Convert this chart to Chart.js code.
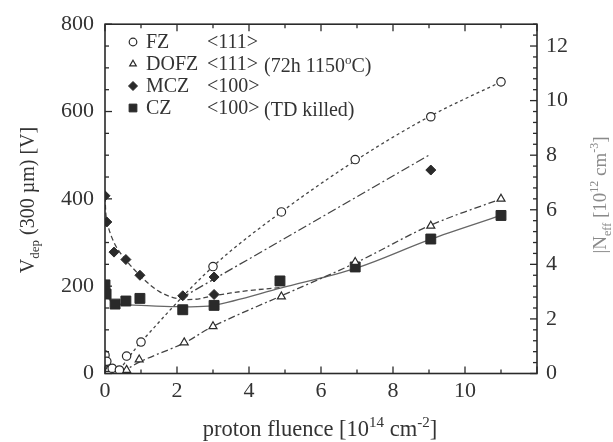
<!DOCTYPE html>
<html><head><meta charset="utf-8">
<script src="https://cdn.jsdelivr.net/npm/chart.js@4.4.1/dist/chart.umd.min.js"></script>
<style>html,body{margin:0;padding:0;background:#fff}#wrap{width:613px;height:442px;position:relative}</style>
</head><body><div id="wrap"><canvas id="c"></canvas></div>
<script>
// Series labels
const seriesNames  = ['FZ', 'DOFZ', 'MCZ', 'CZ'];
const seriesOrient = ['<111>', '<111>', '<100>', '<100>'];
const seriesNotes  = ['', '(72h 1150|o|C)', '', '(TD killed)'];

// Measured depletion voltage vs proton fluence
const fzX   = [0, 0.05, 0.2, 0.4, 0.6, 1.0, 3.0, 4.9, 6.95, 9.05, 11];
const fzY   = [42, 28, 12, 8, 40, 72, 245, 370, 490, 588, 668];
const dofzX = [0, 0.1, 0.3, 0.6, 0.95, 2.2, 3.0, 4.9, 6.95, 9.05, 11];
const dofzY = [22, 10, 3, 8, 32, 71, 108, 176, 255, 338, 400];
const mczX  = [0, 0.05, 0.25, 0.58, 0.97, 2.16, 3.03, 3.03, 9.05];
const mczY  = [407, 347, 278, 261, 225, 178, 221, 181, 466];
const czX   = [0, 0.03, 0.28, 0.58, 0.97, 2.16, 3.03, 4.86, 6.95, 9.05, 11];
const czY   = [203, 182, 159, 166, 172, 146, 156, 212, 244, 308, 362];

// Guide curves through the data
const fzFitX    = [0.4, 1, 3, 4.9, 7, 9, 11];
const fzFitY    = [8, 72, 245, 370, 490, 588, 668];
const dofzFitX  = [0.45, 1, 2.2, 3, 4.9, 7, 9, 11];
const dofzFitY  = [2, 28, 70, 108, 178, 255, 338, 400];
const mczCurveX = [0, 0.05, 0.25, 0.5, 1, 1.5, 2, 2.5, 3, 4, 4.9];
const mczCurveY = [405, 350, 300, 268, 222, 188, 172, 170, 178, 190, 197];
const mczLineX  = [2.1, 9];
const mczLineY  = [172, 500];
const czFitX    = [0, 0.1, 0.3, 1, 2, 3, 4.9, 7, 9, 11];
const czFitY    = [195, 172, 160, 156, 153, 156, 196, 242, 306, 362];

// Axis ticks
const xTicks  = [0, 2, 4, 6, 8, 10];
const yTicks  = [0, 200, 400, 600, 800];
const y2Ticks = [0, 2, 4, 6, 8, 10, 12];

const INK = '#2a2a2a';
const FONT = 'Liberation Serif';
const pts = (xs, ys) => xs.map((x, i) => ({x, y: ys[i]}));

const pointSets = [
  {data: pts(fzX, fzY),     pointStyle: 'circle',   radius: 4.2, backgroundColor: '#fff', borderColor: INK, borderWidth: 1.2},
  {data: pts(dofzX, dofzY), pointStyle: 'triangle', radius: 4.6, backgroundColor: '#fff', borderColor: INK, borderWidth: 1.2},
  {data: pts(mczX, mczY),   pointStyle: 'rectRot',  radius: 5,   backgroundColor: INK,   borderColor: INK, borderWidth: 1},
  {data: pts(czX, czY),     pointStyle: 'rect',     radius: 7,   backgroundColor: INK,   borderColor: INK, borderWidth: 1}
];

function fitLine(xs, ys, dash, color) {
  return {type: 'line', data: pts(xs, ys), showLine: true, pointRadius: 0, borderColor: color,
          borderWidth: 1.3, borderDash: dash, fill: false, tension: 0.35, order: 5};
}

const datasets = [
  fitLine(fzFitX, fzFitY, [3, 3], '#444'),
  fitLine(dofzFitX, dofzFitY, [7, 3, 2, 3], '#444'),
  fitLine(mczCurveX, mczCurveY, [5, 3], '#444'),
  Object.assign(fitLine(mczLineX, mczLineY, [9, 3, 2, 3], '#444'), {tension: 0}),
  fitLine(czFitX, czFitY, [], '#666'),
  ...pointSets.map((p, i) => ({
    label: seriesNames[i], data: p.data, showLine: false, pointStyle: p.pointStyle,
    pointRadius: p.radius, pointBackgroundColor: p.backgroundColor, pointBorderColor: p.borderColor,
    pointBorderWidth: p.borderWidth, order: 1
  }))
];

// draw text made of runs: [text, 'n'|'sub'|'sup']
function drawRuns(ctx, runs, x, y, size, align) {
  const small = Math.round(size * 0.65);
  let total = 0;
  runs.forEach(r => { ctx.font = (r[1] === 'n' ? size : small) + 'px "' + FONT + '"'; total += ctx.measureText(r[0]).width; });
  let cx = align === 'center' ? x - total / 2 : x;
  ctx.textAlign = 'left';
  ctx.textBaseline = 'alphabetic';
  runs.forEach(r => {
    const s = r[1] === 'n' ? size : small;
    ctx.font = s + 'px "' + FONT + '"';
    const dy = r[1] === 'sub' ? size * 0.25 : r[1] === 'sup' ? -size * 0.42 : 0;
    ctx.fillText(r[0], cx, y + dy);
    cx += ctx.measureText(r[0]).width;
  });
}

const framePlugin = {
  id: 'frame',
  afterDatasetsDraw(chart) {
    const {ctx, chartArea: a, scales} = chart;
    ctx.save();
    ctx.strokeStyle = INK;
    ctx.lineWidth = 1.6;
    ctx.strokeRect(a.left, a.top, a.right - a.left, a.bottom - a.top);
    ctx.lineWidth = 1.3;
    const tick = (x1, y1, x2, y2) => { ctx.beginPath(); ctx.moveTo(x1, y1); ctx.lineTo(x2, y2); ctx.stroke(); };
    // x ticks, bottom and top, inward
    for (let v = 0; v <= 12; v += 1) {
      const px = scales.x.getPixelForValue(v);
      const len = v % 2 === 0 ? 7 : 4;
      tick(px, a.bottom, px, a.bottom - len);
      tick(px, a.top, px, a.top + len);
    }
    // left ticks
    for (let v = 0; v <= 800; v += 50) {
      const py = scales.y.getPixelForValue(v);
      const len = v % 200 === 0 ? 7 : 4;
      tick(a.left, py, a.left + len, py);
    }
    // right ticks
    for (let i = 0; i <= 32; i++) {
      const v = i * 0.4;
      const py = scales.y2.getPixelForValue(v);
      const len = i % 5 === 0 ? 7 : 4;
      tick(a.right, py, a.right - len, py);
    }
    ctx.restore();
  },
  afterDraw(chart) {
    const {ctx} = chart;
    ctx.save();
    // legend
    const rows = [42, 64, 86, 108];
    rows.forEach((y, i) => {
      const p = pointSets[i];
      ctx.fillStyle = p.backgroundColor;
      ctx.strokeStyle = p.borderColor;
      ctx.lineWidth = p.borderWidth;
      Chart.helpers.drawPoint(ctx, {pointStyle: p.pointStyle, radius: i === 3 ? 5.5 : i === 2 ? 4.5 : 3.8, borderWidth: p.borderWidth}, 133, y);
      ctx.fillStyle = '#333';
      ctx.font = '20px "' + FONT + '"';
      ctx.textAlign = 'left';
      ctx.textBaseline = 'middle';
      ctx.fillText(seriesNames[i], 146, y + 1);
      ctx.fillText(seriesOrient[i], 207, y + 1);
      if (seriesNotes[i]) {
        const parts = seriesNotes[i].split('|');
        const runs = parts.map((t, k) => [t, k === 1 ? 'sup' : 'n']).filter(r => r[0]);
        drawRuns(ctx, runs, 264, y + 8, 20, 'left');
      }
    });
    // axis titles
    ctx.fillStyle = '#333';
    drawRuns(ctx, [['proton fluence [10', 'n'], ['14', 'sup'], [' cm', 'n'], ['-2', 'sup'], [']', 'n']], 320, 436, 22.5, 'center');
    ctx.save();
    ctx.translate(34, 200);
    ctx.rotate(-Math.PI / 2);
    drawRuns(ctx, [['V', 'n'], ['dep', 'sub'], [' (300 \u00b5m) [V]', 'n']], 0, 0, 20, 'center');
    ctx.restore();
    ctx.save();
    ctx.fillStyle = '#8a8a8a';
    ctx.translate(606, 195);
    ctx.rotate(-Math.PI / 2);
    drawRuns(ctx, [['|N', 'n'], ['eff', 'sub'], [' [10', 'n'], ['12', 'sup'], [' cm', 'n'], ['-3', 'sup'], [']', 'n']], 0, 0, 19, 'center');
    ctx.restore();
    ctx.restore();
  }
};

const tickFont = {family: FONT, size: 22};
const noGrid = {display: false, drawTicks: false};
new Chart(document.getElementById('c'), {
  type: 'scatter',
  data: {datasets},
  options: {
    responsive: true, maintainAspectRatio: false, animation: false,
    layout: {padding: {top: 19, left: 0, right: 0, bottom: 0}},
    plugins: {legend: {display: false}, tooltip: {enabled: false}},
    scales: {
      x: {
        type: 'linear', min: 0, max: 12,
        afterBuildTicks: s => { s.ticks = xTicks.map(v => ({value: v})); },
        afterFit: s => { s.height = 68.5; },
        grid: noGrid, border: {display: false},
        ticks: {font: tickFont, color: '#333', padding: 5, maxRotation: 0}
      },
      y: {
        type: 'linear', min: 0, max: 800, position: 'left',
        afterBuildTicks: s => { s.ticks = yTicks.map(v => ({value: v})); },
        afterFit: s => { s.width = 105; },
        grid: noGrid, border: {display: false},
        ticks: {font: tickFont, color: '#333', padding: 11}
      },
      y2: {
        type: 'linear', min: 0, max: 12.8, position: 'right',
        afterBuildTicks: s => { s.ticks = y2Ticks.map(v => ({value: v})); },
        afterFit: s => { s.width = 76; },
        grid: noGrid, border: {display: false},
        ticks: {font: tickFont, color: '#333', padding: 9}
      }
    }
  },
  plugins: [framePlugin]
});
</script>
</body></html>
